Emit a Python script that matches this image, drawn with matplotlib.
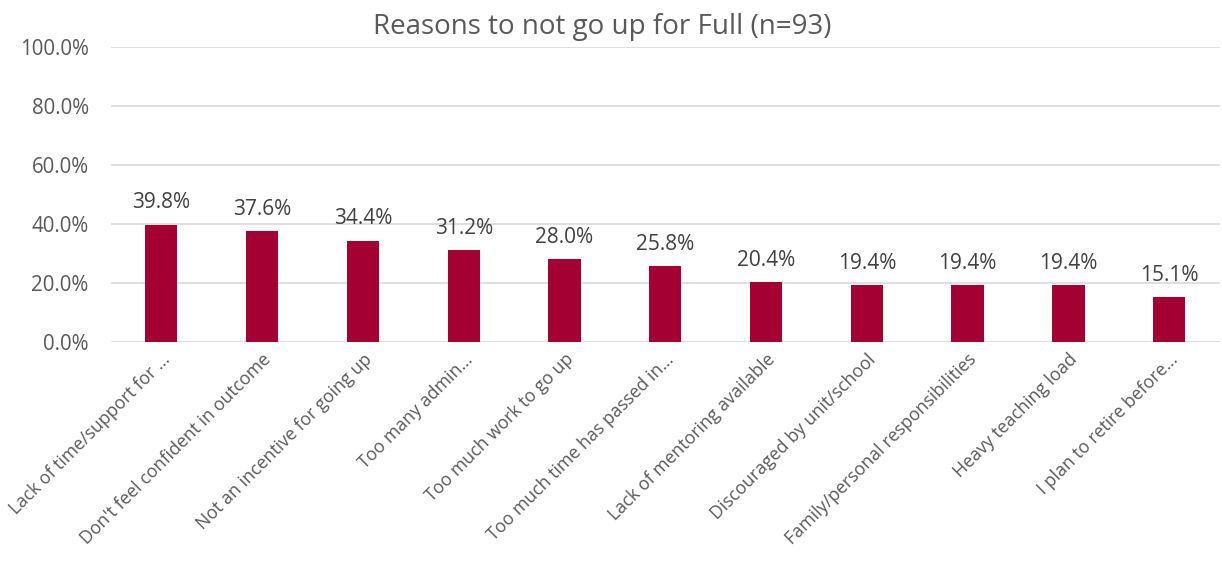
import matplotlib.pyplot as plt
from matplotlib.ticker import FuncFormatter

reasons = ["Lack of time/support for ...", "Don't feel confident in outcome",
           "Not an incentive for going up", "Too many admin...",
           "Too much work to go up", "Too much time has passed in...",
           "Lack of mentoring available", "Discouraged by unit/school",
           "Family/personal responsibilities", "Heavy teaching load",
           "I plan to retire before..."]
pct = [39.8, 37.6, 34.4, 31.2, 28.0, 25.8, 20.4, 19.4, 19.4, 19.4, 15.1]

plt.rcParams['font.family'] = ['Open Sans', 'DejaVu Sans']

fig = plt.figure(figsize=(12.22, 5.64), dpi=100)
ax = fig.add_axes([0.0908, 0.3936, 0.9072, 0.5231])

x = range(len(reasons))
bars = ax.bar(x, pct, width=0.32, color='#A50034', zorder=3)
for b, v in zip(bars, pct):
    ax.text(b.get_x() + b.get_width() / 2, v + 3.8, f"{v:.1f}%",
            ha='center', va='bottom', fontsize=15, color='#404040')

ax.set_ylim(0, 100)
ax.set_xlim(-0.5, len(reasons) - 0.5)
ax.set_yticks([0, 20, 40, 60, 80, 100])
ax.yaxis.set_major_formatter(FuncFormatter(lambda v, p: f"{v:.1f}%"))
ax.yaxis.grid(True, color='#D9D9D9', linewidth=1.2, zorder=0)
ax.set_xticks(list(x))
ax.set_xticklabels(reasons, rotation=45, ha='right', rotation_mode='anchor')
ax.tick_params(axis='x', length=0, labelsize=12.8, colors='#595959', pad=6)
ax.tick_params(axis='y', length=0, labelsize=14.8, colors='#595959', pad=16)
for s in ax.spines.values():
    s.set_visible(False)

fig.text(0.493, 0.952, "Reasons to not go up for Full (n=93)", fontsize=20,
         color='#595959', ha='center', va='center')

fig.savefig('out.png', dpi=100)
